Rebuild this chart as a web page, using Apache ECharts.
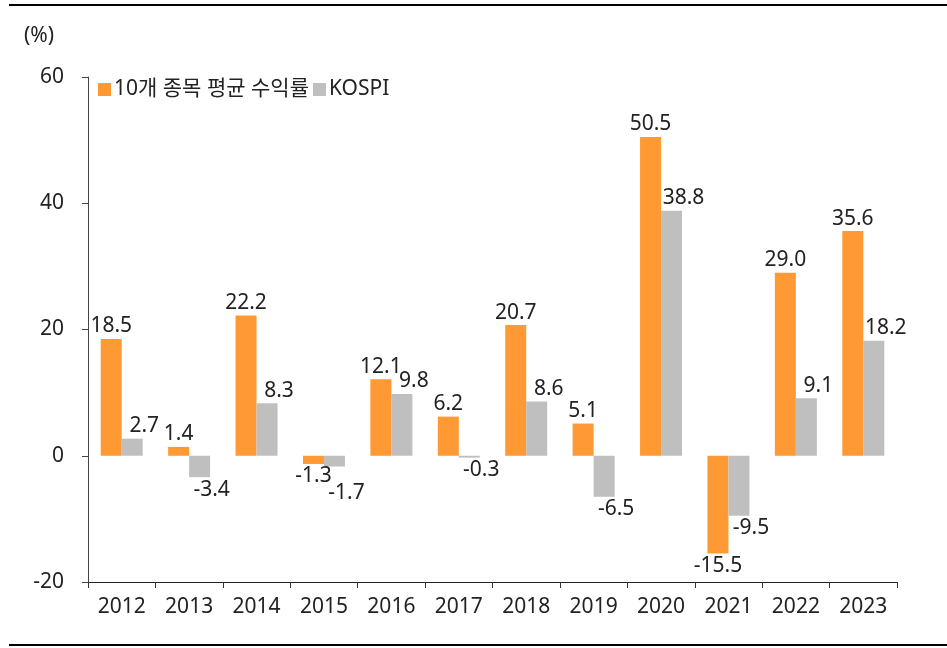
<!DOCTYPE html>
<html><head><meta charset="utf-8">
<script src="https://cdn.jsdelivr.net/npm/echarts@6/dist/echarts.min.js"></script>
<style>html,body{margin:0;padding:0;background:#fff}#c{width:947px;height:648px}</style>
</head><body><div id="c"></div>
<script>
const years = ['2012','2013','2014','2015','2016','2017','2018','2019','2020','2021','2022','2023'];
const seriesNames = ['10개 종목 평균 수익률', 'KOSPI'];
const top10 = [18.5, 1.4, 22.2, -1.3, 12.1, 6.2, 20.7, 5.1, 50.5, -15.5, 29.0, 35.6];
const kospi = [2.7, -3.4, 8.3, -1.7, 9.8, -0.3, 8.6, -6.5, 38.8, -9.5, 9.1, 18.2];
const yTicks = [-20, 0, 20, 40, 60];

const FONT = '"Noto Sans", "Noto Sans CJK KR", sans-serif';
const chart = echarts.init(document.getElementById('c'), null, {renderer: 'canvas'});

function mkData(arr, dx, extraDy) {
  return arr.map((v, i) => ({
    value: v,
    label: { position: v >= 0 ? 'top' : 'bottom', offset: [dx, (extraDy && extraDy[i]) || 0] }
  }));
}
const labelCfg = {
  show: true, fontFamily: FONT, fontSize: 21, color: '#222', distance: 2,
  formatter: p => p.value.toFixed(1)
};

chart.setOption({
  animation: false,
  textStyle: { fontFamily: FONT },
  grid: { left: 88, right: 50, top: 77, bottom: 66, containLabel: false },
  legend: {
    left: 93, top: 74, itemWidth: 13, itemHeight: 13, itemGap: 4,
    icon: 'rect',
    textStyle: { fontFamily: FONT, fontSize: 21, color: '#222', padding: [0,0,0,-2] },
    data: seriesNames
  },
  graphic: [
    { type: 'line', shape: { x1: 9, y1: 5, x2: 947, y2: 5 }, style: { stroke: '#000', lineWidth: 2 } },
    { type: 'line', shape: { x1: 9, y1: 645, x2: 947, y2: 645 }, style: { stroke: '#000', lineWidth: 2 } },
    { type: 'text', left: 24, top: 26, style: { text: '(%)', font: '21px ' + FONT, fill: '#222' } }
  ],
  xAxis: [
    {
      type: 'category', data: years, position: 'bottom',
      axisLine: { show: false }, axisTick: { show: false },
      axisLabel: { fontFamily: FONT, fontSize: 21, color: '#222', margin: 15 }
    },
    {
      type: 'category', data: years, position: 'bottom',
      axisLine: { show: true, onZero: true, lineStyle: { color: '#222', width: 1 } },
      axisTick: { show: true, length: 6, inside: false, lineStyle: { color: '#333' } },
      axisLabel: { show: false }
    }
  ],
  yAxis: {
    type: 'value', min: -20, max: 60, interval: 20,
    axisLine: { show: true, lineStyle: { color: '#444' } },
    axisTick: { show: true, length: 6, lineStyle: { color: '#444' } },
    splitLine: { show: false },
    axisLabel: { fontFamily: FONT, fontSize: 21, color: '#222', margin: 24,
      formatter: v => yTicks.includes(v) ? String(v) : '' }
  },
  series: [
    { name: seriesNames[0], type: 'bar', xAxisIndex: 0, data: mkData(top10, 0),
      itemStyle: { color: '#FF9933' }, barWidth: 21, barGap: '0%', label: labelCfg },
    { name: seriesNames[1], type: 'bar', xAxisIndex: 0,
      data: mkData(kospi, 12, {3: 14}),
      itemStyle: { color: '#BFBFBF' }, barWidth: 21, barGap: '0%', label: labelCfg }
  ]
});
</script></body></html>
